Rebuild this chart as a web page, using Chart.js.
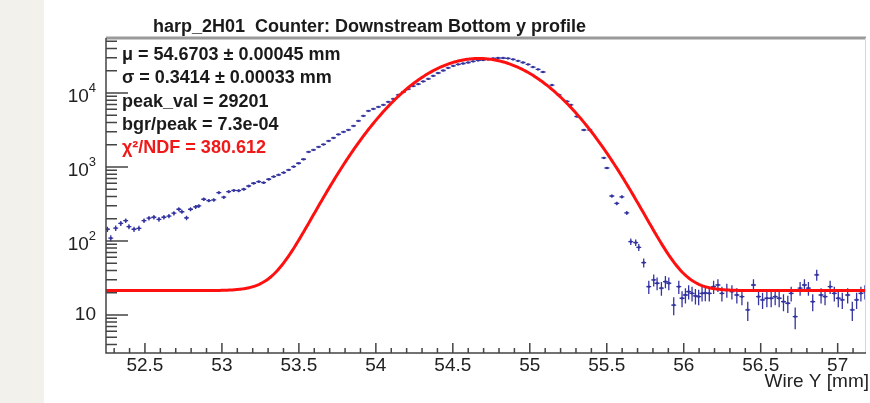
<!DOCTYPE html>
<html>
<head>
<meta charset="utf-8">
<script src="https://cdn.jsdelivr.net/npm/chart.js@4.4.1/dist/chart.umd.min.js"></script>
<style>
  html, body { margin: 0; padding: 0; background: #fff; }
  canvas { display: block; }
</style>
</head>
<body>
<canvas id="profile" width="870" height="403"></canvas>
<script>
// harp_2H01, downstream bottom counter, y profile
var wireY = [
  52.256, 52.278, 52.310, 52.343, 52.375, 52.396, 52.429, 52.461, 52.494, 52.526,
  52.558, 52.591, 52.623, 52.656, 52.688, 52.720, 52.740, 52.770, 52.796, 52.829,
  52.850, 52.882, 52.915, 52.947, 52.980, 53.012, 53.044, 53.077, 53.109, 53.142,
  53.174, 53.206, 53.239, 53.271, 53.304, 53.336, 53.368, 53.401, 53.433, 53.466,
  53.498, 53.530, 53.563, 53.595, 53.628, 53.660, 53.693, 53.725, 53.757, 53.790,
  53.822, 53.855, 53.887, 53.919, 53.952, 53.984, 54.017, 54.049, 54.081, 54.114,
  54.146, 54.179, 54.211, 54.243, 54.276, 54.308, 54.341, 54.373, 54.405, 54.438,
  54.470, 54.503, 54.535, 54.567, 54.600, 54.632, 54.665, 54.697, 54.729, 54.762,
  54.794, 54.827, 54.859, 54.892, 54.924, 54.956, 54.989, 55.021, 55.054, 55.086,
  55.144, 55.190, 55.242, 55.267, 55.306, 55.351, 55.390, 55.481, 55.501, 55.533,
  55.565, 55.598, 55.630, 55.656, 55.688, 55.708, 55.740, 55.773, 55.805, 55.827,
  55.855, 55.881, 55.903, 55.935, 55.968, 55.989, 56.011, 56.032, 56.054, 56.076,
  56.097, 56.119, 56.140, 56.166, 56.194, 56.222, 56.248, 56.280, 56.313, 56.345,
  56.378, 56.416, 56.453, 56.486, 56.512, 56.540, 56.568, 56.594, 56.620, 56.648,
  56.676, 56.698, 56.724, 56.756, 56.784, 56.810, 56.838, 56.864, 56.892, 56.918,
  56.951, 56.978, 57.004, 57.030, 57.065, 57.095, 57.123, 57.151, 57.177
];
var counts = [
  144, 109, 149, 173, 188, 156, 144, 148, 188, 203,
  209, 196, 209, 217, 237, 268, 248, 205, 268, 288,
  297, 366, 351, 358, 450, 390, 464, 481, 478, 500,
  553, 602, 633, 613, 682, 740, 780, 838, 911, 1009,
  1122, 1270, 1596, 1698, 1864, 2013, 2245, 2465, 2750, 2972,
  3162, 3581, 4188, 4890, 5710, 6080, 6470, 6890, 7560, 8300,
  9400, 10300, 11300, 12400, 13200, 14300, 15500, 17000, 18600, 20100,
  21800, 23200, 24300, 25000, 25800, 26700, 27500, 27900, 28400, 29300,
  29700, 29700, 29300, 28400, 27100, 25800, 24300, 22400, 20800, 19200,
  12800, 9400, 7680, 6890, 4810, 3160, 3160, 1324, 968, 405,
  321, 394, 239, 98, 95, 82, 51, 24.1, 29.7, 26.8,
  23.0, 28.2, 26.8, 13.6, 24.1, 16.8, 18.6, 20.7, 19.6, 18.1,
  17.7, 19.6, 19.8, 19.6, 24.1, 25.4, 19.6, 21.8, 20.7, 18.6,
  17.7, 11.7, 25.4, 17.7, 16.0, 16.8, 16.8, 17.7, 16.8, 15.1,
  14.4, 19.6, 9.5, 23.0, 25.4, 23.0, 15.1, 34.8, 18.6, 17.7,
  24.1, 19.6, 16.8, 16.0, 18.6, 11.7, 16.0, 19.6, 20.7
];
var binHalfWidth = 0.016;

// gaussian + flat background fit results
var fitMu = 54.6703;
var fitSigma = 0.3414;
var fitPeak = 29201;
var fitBgrRatio = 7.3e-4;

var xMin = 52.247, xMax = 57.184;
var yMin = 3.06, yMax = 55300;
var xTickLabels = ['52.5', '53', '53.5', '54', '54.5', '55', '55.5', '56', '56.5', '57'];
var yDecadeLabels = [1, 2, 3, 4];

var statsLines = [
  { text: 'μ = 54.6703 ± 0.00045 mm', color: '#1a1a1a' },
  { text: 'σ = 0.3414 ± 0.00033 mm', color: '#1a1a1a' },
  { text: 'peak_val = 29201', color: '#1a1a1a' },
  { text: 'bgr/peak = 7.3e-04', color: '#1a1a1a' },
  { text: 'χ²/NDF = 380.612', color: '#f01818' }
];

var FONT = '"Liberation Sans", Arial, Helvetica, sans-serif';
var BLUE = '#3434a0';

var fitLine = [];
for (var k = 0; k <= 600; k++) {
  var xv = xMin + (xMax - xMin) * k / 600;
  var d = (xv - fitMu) / fitSigma;
  fitLine.push({ x: xv, y: fitPeak * Math.exp(-0.5 * d * d) + fitPeak * fitBgrRatio });
}

var points = wireY.map(function (w, i) { return { x: w, y: counts[i] }; });

// page background with the grey margin strip
var backdrop = {
  id: 'backdrop',
  beforeDraw: function (chart) {
    var c = chart.ctx;
    c.save();
    c.fillStyle = '#ffffff';
    c.fillRect(0, 0, chart.width, chart.height);
    c.fillStyle = '#f3f1ec';
    c.fillRect(0, 0, 44, chart.height);
    c.restore();
  }
};

// vertical (sqrt N) and horizontal (bin width) error bars
var errorBars = {
  id: 'errorBars',
  beforeDatasetsDraw: function (chart) {
    var c = chart.ctx, xs = chart.scales.x, ys = chart.scales.y, a = chart.chartArea;
    c.save();
    c.beginPath();
    c.rect(a.left, a.top, a.right - a.left, a.bottom - a.top);
    c.clip();
    c.strokeStyle = BLUE;
    c.lineWidth = 1.3;
    c.beginPath();
    for (var i = 0; i < wireY.length; i++) {
      var n = counts[i], e = Math.sqrt(n);
      var px = xs.getPixelForValue(wireY[i]), py = ys.getPixelForValue(n);
      var lo = Math.max(n - e, yMin);
      c.moveTo(px, ys.getPixelForValue(n + e));
      c.lineTo(px, ys.getPixelForValue(lo));
      c.moveTo(xs.getPixelForValue(wireY[i] - binHalfWidth), py);
      c.lineTo(xs.getPixelForValue(wireY[i] + binHalfWidth), py);
    }
    c.stroke();
    c.restore();
  }
};

// ROOT style frame, inward ticks, labels, title and fit box
var frame = {
  id: 'frame',
  afterDraw: function (chart) {
    var c = chart.ctx, xs = chart.scales.x, ys = chart.scales.y, a = chart.chartArea;
    c.save();

    c.strokeStyle = '#9a9a9a';
    c.lineWidth = 3;
    c.beginPath();
    c.moveTo(a.left, a.top);
    c.lineTo(a.right, a.top);
    c.stroke();
    c.strokeStyle = '#d8d8d8';
    c.lineWidth = 1;
    c.beginPath();
    c.moveTo(a.right - 0.5, a.top);
    c.lineTo(a.right - 0.5, a.bottom);
    c.stroke();

    c.strokeStyle = '#444';
    c.lineWidth = 1.5;
    c.beginPath();
    c.moveTo(a.left, a.top);
    c.lineTo(a.left, a.bottom);
    c.lineTo(a.right, a.bottom);
    c.stroke();

    // x ticks every 0.1 mm, long ones every 0.5 mm
    c.beginPath();
    for (var k = Math.ceil(xMin * 10); k <= Math.floor(xMax * 10); k++) {
      var px = xs.getPixelForValue(k / 10);
      var len = (k % 5 === 0) ? 10 : 5;
      c.moveTo(px, a.bottom);
      c.lineTo(px, a.bottom - len);
    }
    // y ticks, log decades
    for (var n = 0; n <= 4; n++) {
      for (var m = 1; m <= 9; m++) {
        var v = m * Math.pow(10, n);
        if (v < yMin || v > yMax) continue;
        var py = ys.getPixelForValue(v);
        c.moveTo(a.left, py);
        c.lineTo(a.left + (m === 1 ? 22 : 11), py);
      }
    }
    c.stroke();

    c.fillStyle = '#222';
    c.font = '19px ' + FONT;
    c.textAlign = 'center';
    c.textBaseline = 'middle';
    xTickLabels.forEach(function (t) {
      c.fillText(t, xs.getPixelForValue(parseFloat(t)), a.bottom + 13);
    });

    yDecadeLabels.forEach(function (p) {
      var py = ys.getPixelForValue(Math.pow(10, p));
      c.textAlign = 'right';
      c.textBaseline = 'middle';
      if (p === 1) {
        c.font = '19px ' + FONT;
        c.fillText('10', 96, py);
      } else {
        c.font = '13px ' + FONT;
        c.fillText(String(p), 96, py - 5);
        var w = c.measureText(String(p)).width;
        c.font = '19px ' + FONT;
        c.fillText('10', 96 - w, py + 4);
      }
    });

    c.textAlign = 'right';
    c.textBaseline = 'alphabetic';
    c.font = '19px ' + FONT;
    c.fillStyle = '#222';
    c.fillText('Wire Y [mm]', 869, 387);

    c.textAlign = 'left';
    c.font = 'bold 18px ' + FONT;
    c.fillStyle = '#1a1a1a';
    c.fillText('harp_2H01  Counter: Downstream Bottom y profile', 153, 32);

    statsLines.forEach(function (s, i) {
      c.fillStyle = s.color;
      c.fillText(s.text, 122, 60 + i * 23.3);
    });

    c.restore();
  }
};

var chart = new Chart(document.getElementById('profile'), {
  type: 'scatter',
  data: {
    datasets: [
      {
        type: 'line',
        label: 'fit',
        data: fitLine,
        borderColor: '#ff1010',
        borderWidth: 3,
        pointRadius: 0,
        tension: 0,
        fill: false
      },
      {
        label: 'profile',
        data: points,
        pointStyle: 'rect',
        pointRadius: 1.6,
        backgroundColor: BLUE,
        borderWidth: 0
      }
    ]
  },
  options: {
    responsive: false,
    animation: false,
    layout: { padding: { left: 106, top: 38, right: 2, bottom: 50 } },
    plugins: { legend: { display: false }, tooltip: { enabled: false } },
    scales: {
      x: { type: 'linear', min: xMin, max: xMax, display: false },
      y: { type: 'logarithmic', min: yMin, max: yMax, display: false }
    }
  },
  plugins: [backdrop, errorBars, frame]
});
</script>
</body>
</html>
